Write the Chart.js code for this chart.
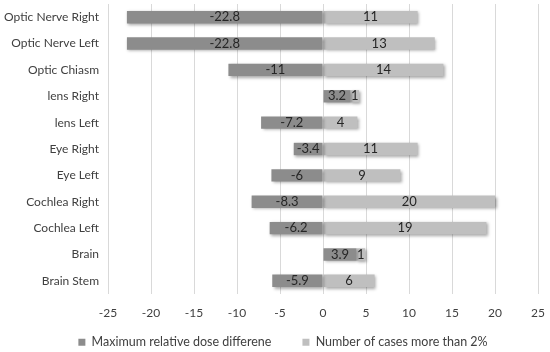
<html>
<head>
    <title>Dose difference chart</title>
    <script src="https://cdn.jsdelivr.net/npm/chart.js@4.4.1/dist/chart.umd.min.js"></script>
    <style>
        html, body { margin: 0; padding: 0; background: #fff; }
        #wrap { width: 550px; height: 352px; }
    </style>
</head>
<body>
    <div id="wrap"><canvas id="myChart"></canvas></div>
    <script type="text/javascript">
        const organs = ['Optic Nerve Right', 'Optic Nerve Left', 'Optic Chiasm', 'lens Right', 'lens Left',
            'Eye Right', 'Eye Left', 'Cochlea Right', 'Cochlea Left', 'Brain', 'Brain Stem'];
        const maxDoseDiff = [-22.8, -22.8, -11, 3.2, -7.2, -3.4, -6, -8.3, -6.2, 3.9, -5.9];
        const casesOver2 = [11, 13, 14, 1, 4, 11, 9, 20, 19, 1, 6];
        const xTicks = [-25, -20, -15, -10, -5, 0, 5, 10, 15, 20, 25];

        const font = 'Lato';

        // soft drop shadow under the bars, like the office chart
        const shadowPlugin = {
            id: 'barShadow',
            beforeDatasetsDraw(chart) {
                const ctx = chart.ctx;
                ctx.save();
                ctx.shadowColor = 'rgba(0,0,0,0.35)';
                ctx.shadowBlur = 3;
                ctx.shadowOffsetX = 1.5;
                ctx.shadowOffsetY = 1.5;
            },
            afterDatasetsDraw(chart) {
                chart.ctx.restore();
            }
        };

        // value labels in the middle of each bar
        const valueLabels = {
            id: 'valueLabels',
            afterDatasetsDraw(chart) {
                const ctx = chart.ctx;
                ctx.save();
                ctx.font = '13px ' + font;
                ctx.fillStyle = '#262626';
                ctx.textAlign = 'center';
                ctx.textBaseline = 'middle';
                chart.data.datasets.forEach(function(ds, di) {
                    chart.getDatasetMeta(di).data.forEach(function(bar, k) {
                        const cx = (bar.x + bar.base) / 2;
                        ctx.fillText(String(ds.data[k]), cx, bar.y);
                    });
                });
                ctx.restore();
            }
        };

        // legend box is squeezed by maxHeight, pull its top up so the text sits where the reference has it
        // (the legend clips to its own box, so grow it rather than move the bottom)
        const legendShift = {
            id: 'legendShift',
            afterLayout(chart) {
                const lg = chart.legend;
                lg.top -= 17;
                lg.height += 17;
                lg.left += 14;
                lg.right += 14;
            }
        };

        const data = {
            labels: organs,
            datasets: [
                {
                    label: 'Maximum relative dose differene',
                    data: maxDoseDiff,
                    backgroundColor: '#8c8c8c'
                },
                {
                    label: 'Number of cases more than 2%',
                    data: casesOver2,
                    backgroundColor: '#bfbfbf'
                }
            ]
        };

        const config = {
            type: 'bar',
            data: data,
            options: {
                indexAxis: 'y',
                responsive: true,
                maintainAspectRatio: false,
                animation: false,
                barPercentage: 0.47,
                categoryPercentage: 1,
                layout: { padding: { top: 4, right: 12, bottom: 0, left: 0 } },
                scales: {
                    x: {
                        stacked: true,
                        min: -25,
                        max: 25,
                        afterBuildTicks: function(scale) {
                            scale.ticks = xTicks.map(v => ({ value: v }));
                        },
                        afterFit: function(scale) {
                            scale.height = 28;
                            scale.paddingLeft = 0;
                            scale.paddingRight = 0;
                        },
                        grid: { color: '#d9d9d9', drawTicks: false },
                        border: { display: false },
                        ticks: { color: '#404040', font: { family: font, size: 12 }, padding: 12 }
                    },
                    y: {
                        stacked: true,
                        afterFit: function(scale) {
                            scale.width = 108;
                            scale.paddingTop = 0;
                            scale.paddingBottom = 0;
                        },
                        grid: { display: false, drawTicks: false },
                        border: { display: false },
                        ticks: { color: '#404040', font: { family: font, size: 12 }, padding: 9 }
                    }
                },
                plugins: {
                    tooltip: { enabled: false },
                    legend: {
                        position: 'bottom',
                        maxHeight: 30,
                        labels: {
                            boxWidth: 7,
                            boxHeight: 7,
                            padding: 31,
                            color: '#404040',
                            font: { family: font, size: 12.5 }
                        }
                    }
                }
            },
            plugins: [shadowPlugin, valueLabels, legendShift]
        };

        var myChart = new Chart(document.getElementById('myChart'), config);
    </script>
</body>
</html>
